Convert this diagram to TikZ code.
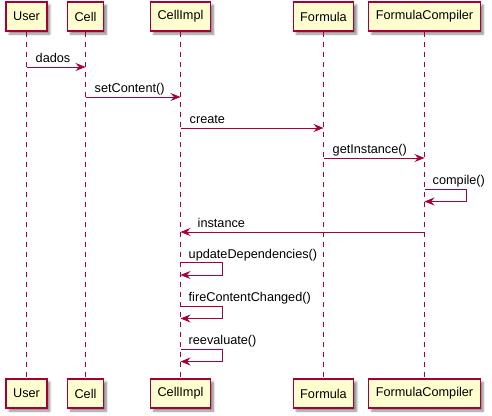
\documentclass[tikz,border=0pt]{standalone}
\usepackage{fontspec}
\setmainfont{Liberation Sans}
\usetikzlibrary{arrows.meta,shadows.blur}
\definecolor{puRed}{HTML}{A80036}
\definecolor{puFill}{HTML}{FEFECE}
\begin{document}
\begin{tikzpicture}[x=1pt,y=-1pt,
  font=\fontsize{12.7}{15}\selectfont,
  part/.style={draw=puRed,fill=puFill,line width=1.3pt,minimum height=29pt,inner xsep=7pt,inner ysep=0pt,
    blur shadow={shadow xshift=3pt,shadow yshift=-3pt,shadow blur radius=2pt,shadow blur steps=6,shadow opacity=45}},
  life/.style={draw=puRed,line width=0.9pt,dash pattern=on 5pt off 5pt},
  msg/.style={draw=puRed,line width=0.9pt,-{Stealth[length=10pt,width=8pt,inset=3.5pt]}},
  lbl/.style={anchor=base west,inner sep=0pt}]
\useasboundingbox (0,0) rectangle (492,415);
% participants
\foreach \n/\t/\x in {u/User/26.5, c/Cell/85.5, i/CellImpl/180.5, f/Formula/323.5, k/FormulaCompiler/424.5}{
  \node[part] (\n T) at (\x,16.5) {\t};
  \node[part] (\n B) at (\x,393.5) {\t};
}
\foreach \n in {u,c,i,f,k}{ \draw[life] (\n T) -- (\n B); }
% messages
\draw[msg] (uT.center |- 0,67) -- (cT.center |- 0,67);
\node[lbl] (l1) at ([xshift=9pt]uT.center |- 0,62.5) {dados};
\draw[msg] (cT.center |- 0,97) -- (iT.center |- 0,97);
\node[lbl] (l2) at ([xshift=9pt]cT.center |- 0,92.5) {setContent()};
\draw[msg] (iT.center |- 0,128) -- (fT.center |- 0,128);
\node[lbl] (l3) at ([xshift=9pt]iT.center |- 0,123.5) {create};
\draw[msg] (fT.center |- 0,158) -- (kT.center |- 0,158);
\node[lbl] (l4) at ([xshift=9pt]fT.center |- 0,153.5) {getInstance()};
% self compile
\draw[msg] (kT.center |- 0,189) -- ++(42,0) -- ++(0,12.5) -- (kT.center |- 0,201.5);
\node[lbl] (l5) at ([xshift=8pt]kT.center |- 0,184.5) {compile()};
\draw[msg] (kT.center |- 0,232) -- (iT.center |- 0,232);
\node[lbl] (l6) at ([xshift=17pt]iT.center |- 0,227.5) {instance};
% self calls on CellImpl
\draw[msg] (iT.center |- 0,262.5) -- ++(42,0) -- ++(0,12.5) -- (iT.center |- 0,275);
\node[lbl] (l7) at ([xshift=8pt]iT.center |- 0,258) {updateDependencies()};
\draw[msg] (iT.center |- 0,306) -- ++(42,0) -- ++(0,12.5) -- (iT.center |- 0,318.5);
\node[lbl] (l8) at ([xshift=8pt]iT.center |- 0,301.5) {fireContentChanged()};
\draw[msg] (iT.center |- 0,349) -- ++(42,0) -- ++(0,12.5) -- (iT.center |- 0,361.5);
\node[lbl] (l9) at ([xshift=8pt]iT.center |- 0,344.5) {reevaluate()};
\end{tikzpicture}
\end{document}
